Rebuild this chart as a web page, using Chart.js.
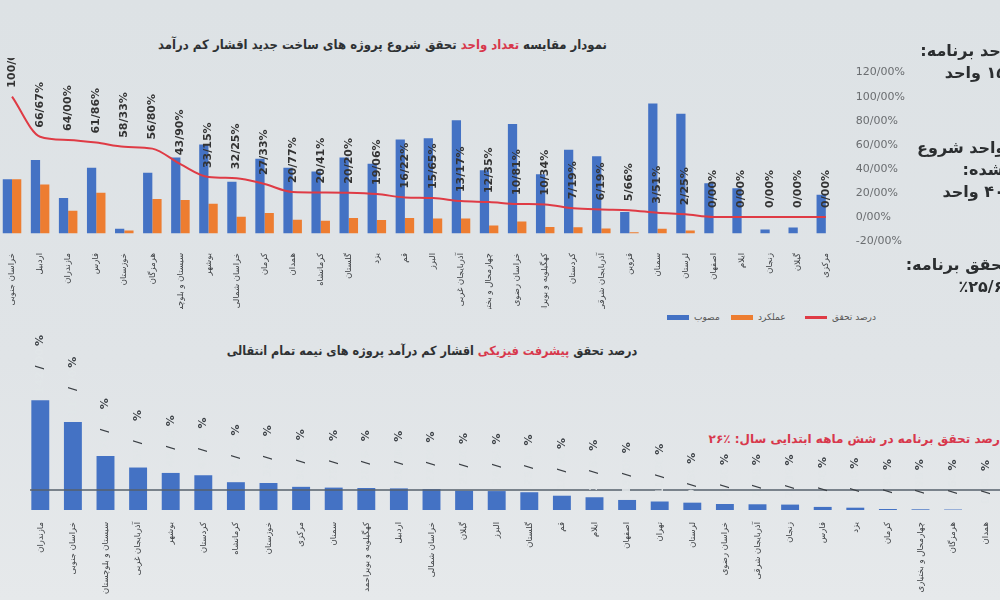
<!DOCTYPE html>
<html lang="fa">
<head>
<meta charset="utf-8">
<script src="https://cdn.jsdelivr.net/npm/chart.js@4.4.1/dist/chart.umd.min.js"></script>
<style>
  html, body { margin: 0; padding: 0; }
  body {
    width: 1000px; height: 600px; overflow: hidden; position: relative;
    background: linear-gradient(180deg, #dde2e5 0%, #e0e4e7 60%, #e6e9eb 100%);
    font-family: "DejaVu Sans", sans-serif; color: #2e3133;
  }
  .abs { position: absolute; }
  .title { font-family: "DejaVu Sans Condensed", "DejaVu Sans", sans-serif; font-weight: bold; font-size: 13px; text-align: center; white-space: nowrap; }
  .red { color: #d8384c; }
  .side { width: 210px; text-align: center; font-weight: bold; font-size: 16px; line-height: 22px; color: #2b2e30; white-space: nowrap; }
  .leg { font-size: 9px; color: #555; top: 311px; height: 12px; line-height: 12px; }
  .leg i { position: absolute; left: 0; top: 4px; width: 22px; height: 5px; }
  .leg span { position: absolute; left: 27px; top: 0; white-space: nowrap; }
</style>
</head>
<body>

<div class="abs title" dir="rtl" style="left:150px; top:37px; width:465px;">
  نمودار مقایسه <span class="red">تعداد واحد</span> تحقق شروع پروژه های ساخت جدید اقشار کم درآمد
</div>

<div class="abs" style="left:-2px; top:58px; width:915px; height:251px;">
  <canvas id="chart-bala"></canvas>
</div>

<div class="abs leg" style="left:667px;"><i style="background:#4472c4"></i><span>مصوب</span></div>
<div class="abs leg" style="left:731px;"><i style="background:#ed7d31"></i><span>عملکرد</span></div>
<div class="abs leg" style="left:805px;"><i style="background:#df3b45; height:3px; top:5px;"></i><span>درصد تحقق</span></div>

<div class="abs side" dir="rtl" style="left:885px; top:40px;">تعداد واحد برنامه:<br>۱۵۶۲۵ واحد</div>
<div class="abs side" dir="rtl" style="left:878px; top:137px;">تعداد واحد شروع<br>شده:<br>۴۰۰۰ واحد</div>
<div class="abs side" dir="rtl" style="left:876px; top:254px;">درصد تحقق برنامه:<br>٪۲۵/۶</div>

<div class="abs title" dir="rtl" style="left:222px; top:343px; width:420px; font-size:12.5px;">
  درصد تحقق <span class="red">پیشرفت فیزیکی</span> اقشار کم درآمد پروژه های نیمه تمام انتقالی
</div>

<div class="abs red" dir="rtl" style="left:700px; top:432px; width:306px; text-align:right; font-weight:bold; font-size:12px; white-space:nowrap;">
  درصد تحقق برنامه در شش ماهه ابتدایی سال: ٪۲۶
</div>

<div class="abs" style="left:24px; top:330px; width:978px; height:270px;">
  <canvas id="chart-payin"></canvas>
</div>

<script>
// نمودار بالا - تعداد واحد مصوب و عملکرد هر استان
const ostanBala = [
  "خراسان جنوبی", "اردبیل", "مازندران", "فارس", "خوزستان", "هرمزگان",
  "سیستان و بلوچستان", "بوشهر", "خراسان شمالی", "کرمان", "همدان", "کرمانشاه",
  "گلستان", "یزد", "قم", "البرز", "آذربایجان غربی", "چهارمحال و بختیاری",
  "خراسان رضوی", "کهگیلویه و بویراحمد", "کردستان", "آذربایجان شرقی", "قزوین", "سمنان",
  "لرستان", "اصفهان", "ایلام", "زنجان", "گیلان", "مرکزی"
];
const mosavab = [420, 570, 275, 510, 36, 470, 590, 690, 400, 580, 510, 480, 590, 540, 730,
                 740, 880, 490, 850, 460, 650, 600, 165, 1010, 930, 390, 350, 30, 45, 300];
const amalkard = [420, 380, 176, 315, 21, 267, 259, 229, 129, 158, 106, 98, 119, 103, 118,
                  116, 116, 61, 92, 48, 47, 37, 9, 35, 21, 0, 0, 0, 0, 0];
const darsadTahaghogh = [100, 66.67, 64.00, 61.86, 58.33, 56.80, 43.90, 33.15, 32.25, 27.33,
                         20.77, 20.41, 20.20, 19.06, 16.22, 15.65, 13.17, 12.35, 10.81, 10.34,
                         7.19, 6.19, 5.66, 3.51, 2.25, 0, 0, 0, 0, 0];
const tickDarsad = [-20, 0, 20, 40, 60, 80, 100, 120];

// نمودار پایین - درصد پیشرفت فیزیکی
const ostanPayin = [
  "مازندران", "خراسان جنوبی", "سیستان و بلوچستان", "آذربایجان غربی", "بوشهر", "کردستان",
  "کرمانشاه", "خوزستان", "مرکزی", "سمنان", "کهگیلویه و بویراحمد", "اردبیل",
  "خراسان شمالی", "گیلان", "البرز", "گلستان", "قم", "ایلام", "اصفهان", "تهران",
  "لرستان", "خراسان رضوی", "آذربایجان شرقی", "زنجان", "فارس", "یزد", "کرمان",
  "چهارمحال و بختیاری", "هرمزگان", "همدان"
];
const pishraft = [142, 114, 70, 55, 48, 45, 36, 35, 30, 29, 28.5, 28, 27, 25, 24.5, 23,
                  18.5, 16.5, 13, 11, 9.5, 7.8, 7.4, 7, 4, 3, 1.3, 0.9, 0.6, 0];
const hadafBarname = 26;

const FONT = '"DejaVu Sans", sans-serif';
const fmt = (v) => v.toFixed(2).replace(".", "/") + "%";

// برچسب های درصد روی خط قرمز
const lineLabels = {
  id: "lineLabels",
  afterDatasetsDraw(chart) {
    const { ctx } = chart;
    const meta = chart.getDatasetMeta(2);
    ctx.save();
    ctx.font = "bold 11px " + FONT;
    ctx.fillStyle = "#333";
    ctx.textAlign = "left";
    ctx.textBaseline = "middle";
    meta.data.forEach((pt, i) => {
      ctx.save();
      ctx.translate(pt.x, pt.y - 9);
      ctx.rotate(-Math.PI / 2);
      ctx.fillText(fmt(darsadTahaghogh[i]), 0, 0);
      ctx.restore();
    });
    ctx.restore();
  },
};

new Chart(document.querySelector("#chart-bala").getContext("2d"), {
  type: "bar",
  data: {
    labels: ostanBala,
    datasets: [
      {
        label: "مصوب",
        data: mosavab,
        backgroundColor: "#4472c4",
        yAxisID: "y",
        order: 2,
        barPercentage: 1,
        categoryPercentage: 0.66,
      },
      {
        label: "عملکرد",
        data: amalkard,
        backgroundColor: "#ed7d31",
        yAxisID: "y",
        order: 2,
        barPercentage: 1,
        categoryPercentage: 0.66,
      },
      {
        type: "line",
        label: "درصد تحقق",
        data: darsadTahaghogh,
        borderColor: "#df3b45",
        borderWidth: 2,
        pointRadius: 0,
        tension: 0.4,
        cubicInterpolationMode: "monotone",
        yAxisID: "y1",
        order: 1,
      },
    ],
  },
  options: {
    responsive: true,
    maintainAspectRatio: false,
    animation: false,
    layout: { padding: { top: 0, left: 0, right: 0, bottom: 0 } },
    plugins: { legend: { display: false }, tooltip: { enabled: false } },
    scales: {
      x: {
        offset: true,
        grid: { display: false },
        border: { display: false },
        ticks: {
          autoSkip: false,
          maxRotation: 90,
          minRotation: 90,
          padding: 4,
          color: "#3a3d40",
          font: { family: FONT, size: 8.5 },
        },
        afterFit(scale) { scale.height = 68; },
      },
      y: { display: false, min: -60, max: 1250 },
      y1: {
        position: "right",
        min: -20,
        max: 120,
        grid: { display: false },
        border: { display: false },
        afterBuildTicks(scale) { scale.ticks = tickDarsad.map((v) => ({ value: v })); },
        ticks: {
          padding: 8,
          color: "#6a6d70",
          font: { family: FONT, size: 11 },
          callback: (v) => fmt(v),
        },
      },
    },
  },
  plugins: [lineLabels],
});

// برچسب ها و خط هدف نمودار پایین
const barLabels = {
  id: "barLabels",
  afterDatasetsDraw(chart) {
    const { ctx, chartArea, scales } = chart;
    // خط درصد تحقق برنامه
    const yHadaf = scales.y.getPixelForValue(hadafBarname);
    ctx.save();
    ctx.strokeStyle = "#56616b";
    ctx.lineWidth = 1.5;
    ctx.beginPath();
    ctx.moveTo(chartArea.left + 6, yHadaf);
    ctx.lineTo(chartArea.right, yHadaf);
    ctx.stroke();

    ctx.font = "bold 11px " + FONT;
    ctx.textAlign = "left";
    ctx.textBaseline = "middle";
    chart.getDatasetMeta(0).data.forEach((bar, i) => {
      const parts = pishraft[i].toFixed(2).split(".");
      const pieces = [
        [parts[0], "rgba(225,229,232,0.9)"],
        ["/", "#3a3f44"],
        [parts[1], "rgba(225,229,232,0.9)"],
        ["%", "#3a3f44"],
      ];
      ctx.save();
      ctx.translate(bar.x, bar.y - 6);
      ctx.rotate(-Math.PI / 2);
      let x = 0;
      pieces.forEach(([t, c]) => {
        ctx.fillStyle = c;
        ctx.fillText(t, x, 0);
        x += ctx.measureText(t).width + 2;
      });
      ctx.restore();
    });
    ctx.restore();
  },
};

new Chart(document.querySelector("#chart-payin").getContext("2d"), {
  type: "bar",
  data: {
    labels: ostanPayin,
    datasets: [
      {
        label: "درصد پیشرفت فیزیکی",
        data: pishraft,
        backgroundColor: "#4472c4",
        barPercentage: 0.55,
        categoryPercentage: 1,
      },
    ],
  },
  options: {
    responsive: true,
    maintainAspectRatio: false,
    animation: false,
    layout: { padding: { top: 41, left: 0, right: 0, bottom: 0 } },
    plugins: { legend: { display: false }, tooltip: { enabled: false } },
    scales: {
      x: {
        offset: true,
        grid: { display: false },
        border: { display: false },
        ticks: {
          autoSkip: false,
          maxRotation: 90,
          minRotation: 90,
          padding: 4,
          color: "#3a3d40",
          font: { family: FONT, size: 8.5 },
        },
        afterFit(scale) { scale.height = 90; },
      },
      y: { display: false, min: 0, max: 180 },
    },
  },
  plugins: [barLabels],
});
</script>
</body>
</html>
